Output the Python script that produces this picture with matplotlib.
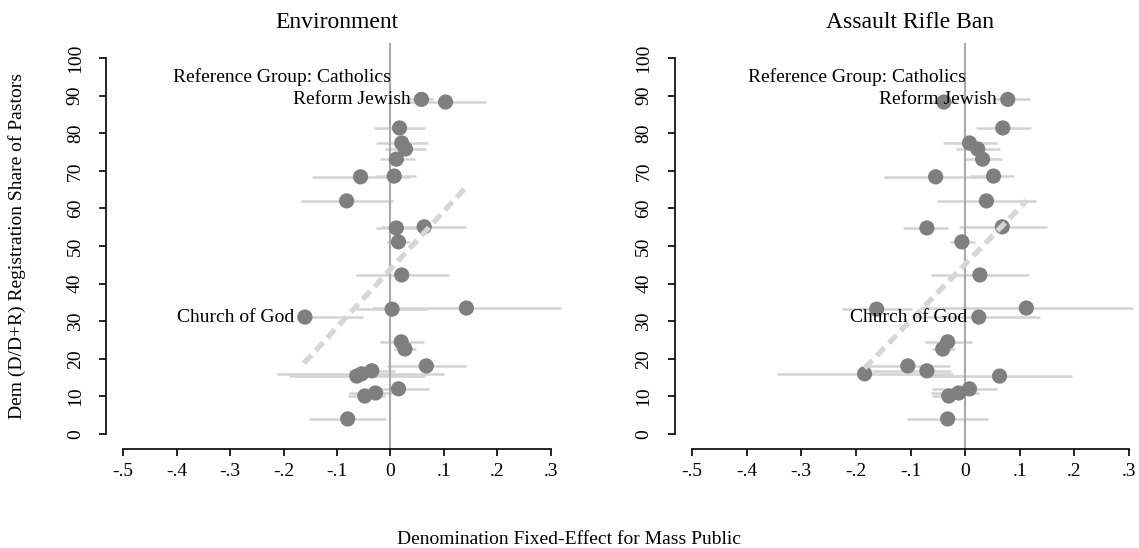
import matplotlib
matplotlib.use("Agg")
import matplotlib.pyplot as plt
import numpy as np

plt.rcParams['font.family'] = ['Liberation Serif', 'DejaVu Serif']
plt.rcParams['lines.scale_dashes'] = False

# Shared y values: Democratic registration share of pastors (per denomination)
pastor_share = [89.0, 88.3, 81.4, 77.4, 75.8, 73.1, 68.6, 68.4, 62.0, 55.1, 54.8, 51.1,
                42.3, 33.5, 33.2, 31.1, 24.5, 22.6, 18.1, 16.8, 16.0, 15.4, 12.0, 10.9,
                10.1, 4.0]

# Environment panel: fixed effects and CI bounds
env_fe = [0.058, 0.103, 0.017, 0.021, 0.028, 0.011, 0.007, -0.056, -0.082, 0.063, 0.011, 0.015,
          0.021, 0.142, 0.003, -0.160, 0.020, 0.027, 0.067, -0.035, -0.054, -0.063, 0.015, -0.028,
          -0.048, -0.080]
env_lo = [0.035, 0.027, -0.030, -0.028, -0.011, -0.020, -0.028, -0.147, -0.168, -0.017, -0.028, -0.007,
          -0.065, -0.035, -0.065, -0.160, -0.020, 0.006, -0.007, -0.078, -0.213, -0.190, -0.022, -0.078,
          -0.080, -0.153]
env_hi = [0.080, 0.179, 0.065, 0.071, 0.067, 0.045, 0.047, 0.035, 0.004, 0.142, 0.050, 0.037,
          0.110, 0.319, 0.070, -0.052, 0.062, 0.048, 0.142, 0.009, 0.100, 0.065, 0.072, 0.002,
          -0.010, -0.009]
env_fit_x = [-0.162, 0.139]
env_fit_y = [18.8, 65.3]

# Assault rifle ban panel
arb_fe = [0.078, -0.039, 0.069, 0.008, 0.023, 0.032, 0.052, -0.054, 0.039, 0.068, -0.070, -0.006,
          0.027, 0.112, -0.162, 0.025, -0.032, -0.041, -0.105, -0.070, -0.184, 0.063, 0.008, -0.012,
          -0.030, -0.032]
arb_lo = [0.050, -0.060, 0.019, -0.041, -0.016, 0.000, 0.009, -0.148, -0.052, -0.012, -0.113, -0.028,
          -0.063, -0.083, -0.226, -0.087, -0.074, -0.061, -0.180, -0.170, -0.345, -0.070, -0.061, -0.063,
          -0.060, -0.106]
arb_hi = [0.118, -0.015, 0.120, 0.058, 0.063, 0.067, 0.090, 0.040, 0.129, 0.149, -0.032, 0.018,
          0.117, 0.307, -0.098, 0.137, 0.012, -0.019, -0.028, -0.025, -0.022, 0.195, 0.058, 0.025,
          0.000, 0.042]
arb_fit_x = [-0.184, 0.112]
arb_fit_y = [17.5, 62.0]

labels = {0: "Reform Jewish", 15: "Church of God"}

xticks = [-0.5, -0.4, -0.3, -0.2, -0.1, 0.0, 0.1, 0.2, 0.3]
xticklabels = ["-.5", "-.4", "-.3", "-.2", "-.1", "0", ".1", ".2", ".3"]
yticks = list(range(0, 101, 10))

FS = 14
fig = plt.figure(figsize=(11.39, 5.48), dpi=100)
W, H = 1139.0, 548.0

def make_panel(left_px, right_px, title, fe, lo, hi, fx, fy):
    ax = fig.add_axes([left_px / W, 1 - 449 / H, (right_px - left_px) / W, (449 - 43) / H])
    ax.set_xlim(-0.532, 0.332)
    ax.set_ylim(-4, 104)
    for s in ['top', 'right']:
        ax.spines[s].set_visible(False)
    ax.spines['left'].set_bounds(0, 100)
    ax.spines['bottom'].set_bounds(-0.5, 0.3)
    for s in ['left', 'bottom']:
        ax.spines[s].set_linewidth(1.2)
    ax.set_xticks(xticks)
    ax.set_xticklabels(xticklabels)
    ax.set_yticks(yticks)
    ax.set_yticklabels([str(v) for v in yticks], rotation=90, va='center')
    ax.tick_params(axis='both', length=5, width=1.2, labelsize=FS)
    ax.tick_params(axis='y', pad=11)
    ax.tick_params(axis='x', pad=5)
    ax.set_title(title, fontsize=17, pad=11)

    ax.hlines(pastor_share, lo, hi, colors='#d3d3d3', linewidth=1.8, zorder=1)
    ax.axvline(0, color='#a9a9a9', linewidth=1.5, zorder=2)
    ax.scatter(fe, pastor_share, s=120, color='#7f7f7f', edgecolors='none', zorder=3)
    ax.plot(fx, fy, color='#d6d6d6', linewidth=3.8, dashes=(8, 4.5),
            solid_capstyle='butt', dash_capstyle='butt', zorder=4)
    ax.text(0.001, 95, "Reference Group: Catholics", ha='right', va='center',
            fontsize=FS, zorder=5)
    for i, name in labels.items():
        ax.annotate(name, (fe[i], pastor_share[i]), xytext=(-8, 0),
                    textcoords='offset points', ha='right', va='center',
                    fontsize=FS, zorder=5)
    return ax

make_panel(106, 568, "Environment", env_fe, env_lo, env_hi, env_fit_x, env_fit_y)
make_panel(674.5, 1146.5, "Assault Rifle Ban", arb_fe, arb_lo, arb_hi, arb_fit_x, arb_fit_y)

fig.text(17 / W, 1 - 246 / H, "Dem (D/D+R) Registration Share of Pastors",
         rotation=90, ha='center', va='center', fontsize=FS)
fig.text(569 / W, 1 - 540 / H, "Denomination Fixed-Effect for Mass Public",
         ha='center', va='center', fontsize=FS)

fig.savefig("out.png", dpi=100)
